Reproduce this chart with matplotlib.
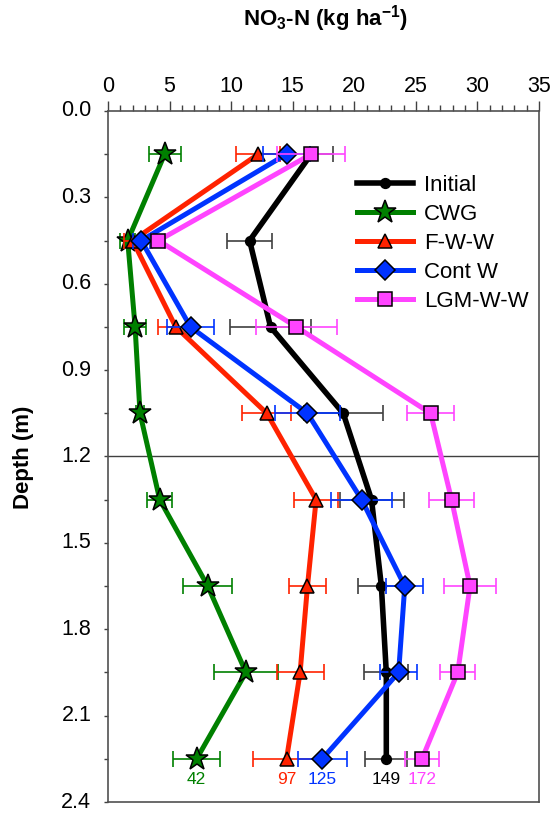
import matplotlib
matplotlib.use("Agg")
import matplotlib.pyplot as plt
from matplotlib.ticker import MultipleLocator, FormatStrFormatter

plt.rcParams['font.family'] = ['Liberation Sans', 'DejaVu Sans']
plt.rcParams['mathtext.fontset'] = 'custom'
plt.rcParams['mathtext.rm'] = 'Liberation Sans:bold'
plt.rcParams['mathtext.bf'] = 'Liberation Sans:bold'
plt.rcParams['mathtext.it'] = 'Liberation Sans:bold'

depth = [0.15, 0.45, 0.75, 1.05, 1.35, 1.65, 1.95, 2.25]

series_names = ["Initial", "CWG", "F-W-W", "Cont W", "LGM-W-W"]
initial = [16.5, 11.5, 13.2, 19.1, 21.4, 22.2, 22.6, 22.6]
initial_err = [1.8, 1.8, 3.3, 3.2, 2.6, 1.9, 1.8, 1.7]
cwg = [4.6, 1.6, 2.2, 2.6, 4.2, 8.1, 11.2, 7.2]
cwg_err = [1.3, 0.6, 0.9, 0.3, 1.0, 2.0, 2.6, 1.9]
fww = [12.2, 2.0, 5.5, 12.9, 16.9, 16.2, 15.6, 14.5]
fww_err = [1.8, 0.7, 1.4, 2.0, 1.8, 1.5, 1.9, 2.7]
contw = [14.5, 2.7, 6.7, 16.2, 20.6, 24.1, 23.6, 17.4]
contw_err = [1.9, 0.7, 1.9, 2.6, 2.5, 1.5, 1.5, 2.0]
lgm = [16.5, 4.1, 15.3, 26.2, 27.9, 29.4, 28.4, 25.5]
lgm_err = [2.75, 0.5, 3.3, 1.9, 1.8, 2.1, 1.4, 1.35]
totals = ["149", "42", "97", "125", "172"]

values = [initial, cwg, fww, contw, lgm]
errors = [initial_err, cwg_err, fww_err, contw_err, lgm_err]
colors = ["#000000", "#008000", "#ff2200", "#0033ff", "#ff44ff"]
err_colors = ["#404040", "#008000", "#ff2200", "#0033ff", "#ff44ff"]
markers = ["o", "*", "^", "D", "s"]
msizes = [7, 17, 10, 10, 10]
lws = [4.0, 3.6, 3.6, 3.6, 3.6]

fig = plt.figure(figsize=(5.55, 8.13), dpi=100)
ax = fig.add_axes([108/555, 1 - 802/813, 431/555, 691/813])

for i in range(5):
    ax.errorbar(values[i], depth, xerr=errors[i], fmt='none', ecolor=err_colors[i],
                elinewidth=1.2, capsize=6, capthick=1.2, zorder=2 + i)
    ax.plot(values[i], depth, color=colors[i], lw=lws[i], marker=markers[i],
            markersize=msizes[i], markerfacecolor=colors[i], markeredgecolor='black',
            markeredgewidth=1.1, label=series_names[i], zorder=3 + i)
    ax.text(values[i][-1], 2.322, totals[i], color=colors[i], ha='center', va='center',
            fontsize=12.5)

ax.axhline(1.2, color='#404040', lw=1.0, zorder=1)

ax.set_xlim(0, 35)
ax.set_ylim(2.4, 0.0)
ax.xaxis.set_major_locator(MultipleLocator(5))
ax.xaxis.set_minor_locator(MultipleLocator(1))
ax.yaxis.set_major_locator(MultipleLocator(0.3))
ax.yaxis.set_minor_locator(MultipleLocator(0.15))
ax.yaxis.set_major_formatter(FormatStrFormatter('%.1f'))
ax.xaxis.tick_top()
ax.tick_params(axis='x', which='major', direction='out', length=7, width=1.0,
               color='#404040', labelsize=15.5, pad=3)
ax.tick_params(axis='x', which='minor', direction='out', length=4, width=1.0, color='#404040')
ax.tick_params(axis='y', which='major', direction='out', length=3, width=1.0,
               color='#404040', labelsize=15.5, pad=9)
ax.tick_params(axis='y', which='minor', direction='out', length=3, width=1.0, color='#404040')
for lab in ax.get_yticklabels():
    lab.set_va('center')
for s in ax.spines.values():
    s.set_color('#505050')
    s.set_linewidth(1.2)

fig.text(325/555, 1 - 19/813, r'NO$_3$-N (kg ha$^{-1}$)', ha='center', va='center',
         fontsize=16, fontweight='bold')
fig.text(23/555, 1 - 457/813, 'Depth (m)', ha='center', va='center', rotation=90,
         fontsize=16, fontweight='bold')

leg = ax.legend(loc='upper left', bbox_to_anchor=(0.578, 0.908), frameon=False,
                fontsize=16, handlelength=2.5, handletextpad=0.5, labelspacing=0.36,
                borderaxespad=0, borderpad=0)

fig.savefig("out.png", dpi=100)
